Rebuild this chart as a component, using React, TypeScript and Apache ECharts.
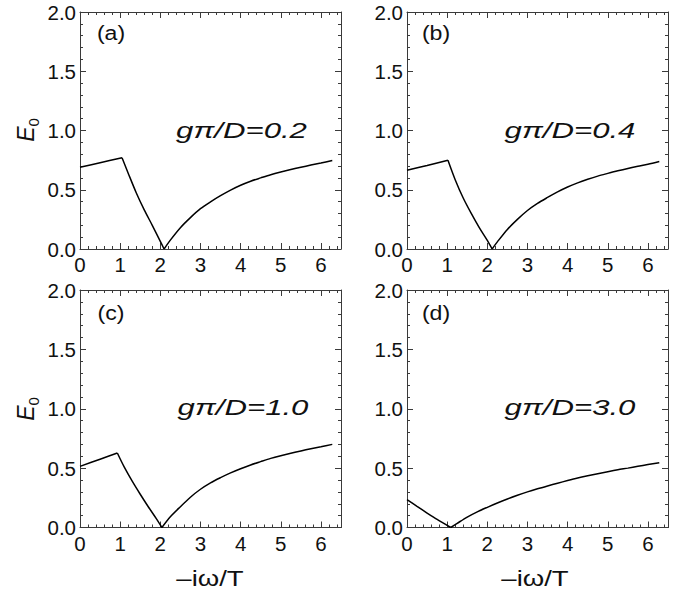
import React, { useEffect, useRef } from 'react';
import * as echarts from 'echarts';

const xTickLabels = ['0', '1', '2', '3', '4', '5', '6'];
const yTickLabels = ['0.0', '0.5', '1.0', '1.5', '2.0'];
const panelLetters = ['(a)', '(b)', '(c)', '(d)'];
const couplings = ['gπ/D=0.2', 'gπ/D=0.4', 'gπ/D=1.0', 'gπ/D=3.0'];
const xTitle = '\u2013i\u03c9/T';

// panel (a) gπ/D = 0.2
const aLeftX = [0, 0.5, 1.047];
const aLeftY = [0.69, 0.728, 0.77];
const aFallX = [1.047, 1.2, 1.4, 1.6, 1.8, 2.0, 2.094];
const aFallY = [0.77, 0.64, 0.475, 0.33, 0.2, 0.065, 0];
const aRiseX = [2.094, 2.25, 2.5, 2.75, 3.0, 3.25, 3.5, 3.75, 4.0, 4.25, 4.5, 4.75, 5.0, 5.25, 5.5, 5.75, 6.0, 6.283];
const aRiseY = [0, 0.075, 0.18, 0.265, 0.34, 0.398, 0.45, 0.497, 0.538, 0.572, 0.6, 0.627, 0.65, 0.671, 0.69, 0.708, 0.725, 0.746];

// panel (b) gπ/D = 0.4
const bLeftX = [0, 0.5, 1.02];
const bLeftY = [0.664, 0.705, 0.749];
const bFallX = [1.02, 1.2, 1.4, 1.6, 1.8, 2.0, 2.12];
const bFallY = [0.749, 0.585, 0.43, 0.3, 0.18, 0.072, 0];
const bRiseX = [2.12, 2.25, 2.5, 2.75, 3.0, 3.25, 3.5, 3.75, 4.0, 4.25, 4.5, 4.75, 5.0, 5.25, 5.5, 5.75, 6.0, 6.283];
const bRiseY = [0, 0.06, 0.165, 0.25, 0.325, 0.385, 0.435, 0.482, 0.523, 0.558, 0.588, 0.615, 0.638, 0.66, 0.68, 0.698, 0.715, 0.738];

// panel (c) gπ/D = 1.0
const cLeftX = [0, 0.5, 0.93];
const cLeftY = [0.515, 0.575, 0.627];
const cFallX = [0.93, 1.1, 1.3, 1.5, 1.7, 1.9, 2.04];
const cFallY = [0.627, 0.51, 0.39, 0.28, 0.175, 0.075, 0];
const cRiseX = [2.04, 2.25, 2.5, 2.75, 3.0, 3.25, 3.5, 3.75, 4.0, 4.25, 4.5, 4.75, 5.0, 5.25, 5.5, 5.75, 6.0, 6.283];
const cRiseY = [0, 0.09, 0.175, 0.255, 0.322, 0.376, 0.42, 0.46, 0.495, 0.527, 0.555, 0.582, 0.605, 0.626, 0.645, 0.663, 0.68, 0.7];

// panel (d) gπ/D = 3.0
const dFallX = [0, 0.25, 0.5, 0.75, 1.09];
const dFallY = [0.235, 0.178, 0.122, 0.068, 0];
const dRiseX = [1.09, 1.25, 1.5, 1.75, 2.0, 2.25, 2.5, 2.75, 3.0, 3.25, 3.5, 3.75, 4.0, 4.25, 4.5, 4.75, 5.0, 5.25, 5.5, 5.75, 6.0, 6.283];
const dRiseY = [0, 0.035, 0.088, 0.132, 0.17, 0.206, 0.24, 0.271, 0.3, 0.326, 0.35, 0.373, 0.395, 0.416, 0.435, 0.453, 0.47, 0.486, 0.5, 0.515, 0.53, 0.546];

const FONT = 'Liberation Sans, Arial, Helvetica, sans-serif';
const AXIS_COLOR = '#3a3a3a';

const zip = (xs: number[], ys: number[]) => xs.map((x, i) => [x, ys[i]]);

export default function App() {
  const ref = useRef<HTMLDivElement>(null);
  useEffect(() => {
    if (!ref.current) return;
    const chart = echarts.init(ref.current, undefined, { renderer: 'svg' });

    const grids = [
      { left: 80, top: 12, width: 261, height: 237 },
      { left: 407, top: 12, width: 261, height: 237 },
      { left: 80, top: 290, width: 261, height: 237.5 },
      { left: 407, top: 290, width: 261, height: 237.5 },
    ];

    const xAxes: any[] = [];
    const yAxes: any[] = [];
    grids.forEach((_, gi) => {
      const mk = (pos: string, interval: number, len: number, labels: boolean, line: boolean) => ({
        type: 'value',
        gridIndex: gi,
        position: pos,
        min: 0,
        max: 6.5,
        interval,
        splitLine: { show: false },
        axisLine: { show: line, onZero: false, lineStyle: { color: AXIS_COLOR, width: 1 } },
        axisTick: { show: true, inside: true, length: len, lineStyle: { color: AXIS_COLOR, width: 1 } },
        axisLabel: {
          show: labels,
          margin: 5,
          color: '#111',
          fontSize: 20.5,
          fontFamily: FONT,
          formatter: (v: number) => {
            const r = Math.round(v);
            return Math.abs(v - r) < 1e-6 ? xTickLabels[r] ?? '' : '';
          },
        },
      });
      xAxes.push(mk('bottom', 1, 6, true, true));
      xAxes.push(mk('bottom', 0.2, 3, false, false));
      xAxes.push(mk('top', 1, 6, false, true));
      xAxes.push(mk('top', 0.2, 3, false, false));
      const mky = (pos: string, interval: number, len: number, labels: boolean, line: boolean) => ({
        type: 'value',
        gridIndex: gi,
        position: pos,
        min: 0,
        max: 2,
        interval,
        splitLine: { show: false },
        axisLine: { show: line, onZero: false, lineStyle: { color: AXIS_COLOR, width: 1 } },
        axisTick: { show: true, inside: true, length: len, lineStyle: { color: AXIS_COLOR, width: 1 } },
        axisLabel: {
          show: labels,
          margin: 4,
          color: '#111',
          fontSize: 20.5,
          fontFamily: FONT,
          formatter: (v: number) => {
            const r = Math.round(v / 0.5);
            return Math.abs(v / 0.5 - r) < 1e-6 ? yTickLabels[r] ?? '' : '';
          },
        },
      });
      yAxes.push(mky('left', 0.5, 6, true, true));
      yAxes.push(mky('left', 0.1, 3, false, false));
      yAxes.push(mky('right', 0.5, 6, false, true));
      yAxes.push(mky('right', 0.1, 3, false, false));
    });

    const branches: number[][][][] = [
      [zip(aLeftX, aLeftY), zip(aFallX, aFallY), zip(aRiseX, aRiseY)],
      [zip(bLeftX, bLeftY), zip(bFallX, bFallY), zip(bRiseX, bRiseY)],
      [zip(cLeftX, cLeftY), zip(cFallX, cFallY), zip(cRiseX, cRiseY)],
      [zip(dFallX, dFallY), zip(dRiseX, dRiseY)],
    ];

    const series: any[] = [];
    branches.forEach((list, gi) => {
      list.forEach((data) => {
        series.push({
          type: 'line',
          xAxisIndex: gi * 4,
          yAxisIndex: gi * 4,
          data,
          showSymbol: false,
          symbol: 'none',
          smooth: 0.3,
          lineStyle: { color: '#000', width: 1.5 },
          silent: true,
        });
      });
    });

    const letterPos = [
      [111, 33],
      [436, 33],
      [111, 313],
      [436, 313],
    ];
    const couplingPos = [
      [241.5, 131],
      [570, 131],
      [243, 408],
      [570, 408],
    ];
    const graphic: any[] = [];
    panelLetters.forEach((t, i) => {
      graphic.push({
        type: 'text',
        x: letterPos[i][0],
        y: letterPos[i][1],
        scaleX: 1.1,
        style: {
          text: t,
          fontSize: 21,
          fontFamily: FONT,
          fill: '#111',
          align: 'center',
          verticalAlign: 'middle',
          textAlign: 'center',
          textVerticalAlign: 'middle',
        },
      });
    });
    couplings.forEach((t, i) => {
      graphic.push({
        type: 'text',
        x: couplingPos[i][0],
        y: couplingPos[i][1],
        scaleX: 1.45,
        style: {
          text: t,
          fontSize: 21.5,
          fontStyle: 'italic',
          fontFamily: FONT,
          fill: '#111',
          align: 'center',
          verticalAlign: 'middle',
          textAlign: 'center',
          textVerticalAlign: 'middle',
        },
      });
    });
    [130, 409].forEach((cy) => {
      graphic.push({
        type: 'text',
        x: 26,
        y: cy,
        rotation: Math.PI / 2,
        style: {
          text: '{e|E}{s|0}',
          fill: '#111',
          align: 'center',
          verticalAlign: 'middle',
          textAlign: 'center',
          textVerticalAlign: 'middle',
          rich: {
            e: { fontSize: 23, fontStyle: 'italic', fontFamily: FONT, fill: '#111', lineHeight: 30, verticalAlign: 'middle' },
            s: { fontSize: 15, fontFamily: FONT, fill: '#111', lineHeight: 30, verticalAlign: 'bottom' },
          },
        },
      });
    });
    [210, 535].forEach((cx) => {
      graphic.push({
        type: 'text',
        x: cx,
        y: 578,
        scaleX: 1.25,
        style: {
          text: xTitle,
          fontSize: 22,
          fontFamily: FONT,
          fill: '#111',
          align: 'center',
          verticalAlign: 'middle',
          textAlign: 'center',
          textVerticalAlign: 'middle',
        },
      });
    });

    chart.setOption({
      animation: false,
      backgroundColor: '#fff',
      grid: grids,
      xAxis: xAxes,
      yAxis: yAxes,
      series,
      graphic,
    });
    return () => chart.dispose();
  }, []);
  return (
    <div
      ref={ref}
      style={{ position: 'fixed', left: 0, top: 0, width: 687, height: 593, background: '#fff' }}
    />
  );
}
